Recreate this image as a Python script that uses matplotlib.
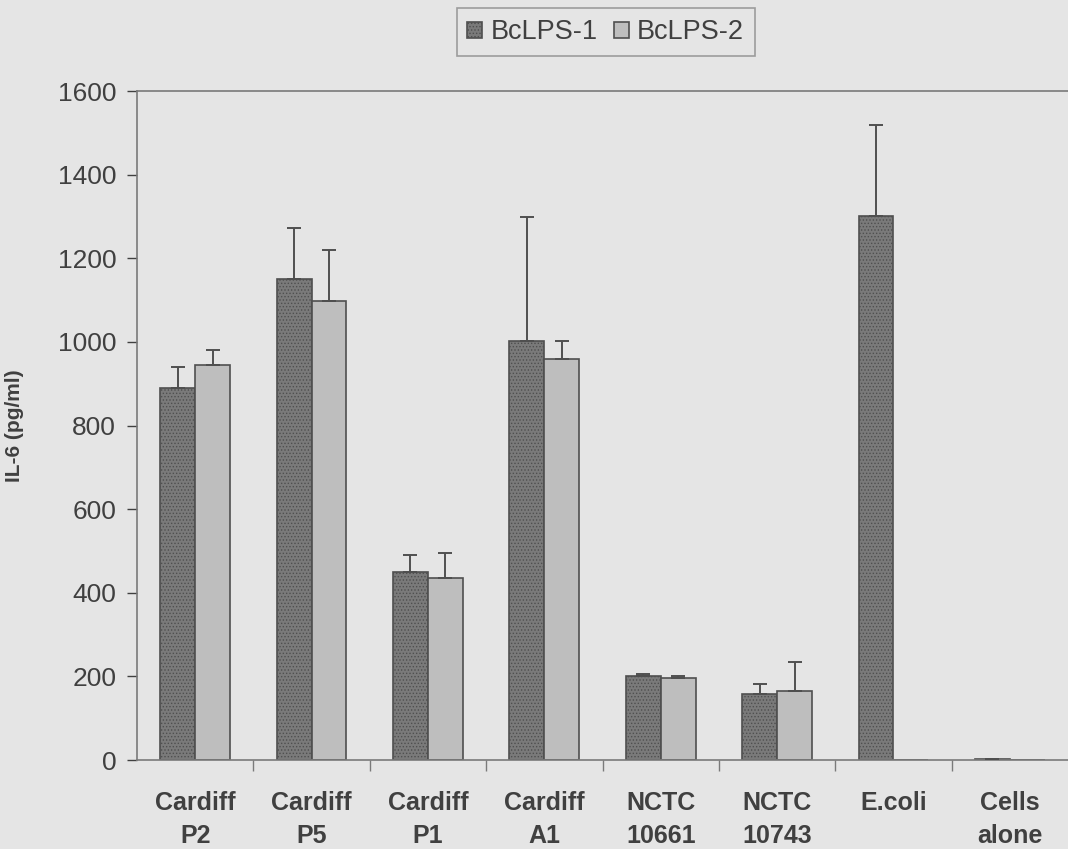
import numpy as np
import matplotlib.pyplot as plt

# ============================================================
# Data
# ============================================================

categories = ["Cardiff\nP2", "Cardiff\nP5", "Cardiff\nP1", "Cardiff\nA1",
              "NCTC\n10661", "NCTC\n10743", "E.coli", "Cells\nalone"]

bclps1_mean = [889, 1150, 450, 1001, 201, 158, 1301, 3]
bclps1_err = [52, 122, 41, 297, 5, 24, 217, 0]

bclps2_mean = [944, 1097, 436, 960, 196, 165, 0, 0]
bclps2_err = [36, 122, 60, 41, 5, 70, 0, 0]

# ============================================================
# Style
# ============================================================

BG = "#e5e5e5"
DARK = "#7a7a7a"
LIGHT = "#bebebe"
EDGE = "#4f4f4f"
TEXT = "#404040"

plt.rcParams['font.family'] = ['Liberation Sans', 'DejaVu Sans']
plt.rcParams['hatch.color'] = '#959595'
plt.rcParams['hatch.linewidth'] = 0.6

fig = plt.figure(figsize=(10.68, 8.49), dpi=100, facecolor=BG)
ax = fig.add_axes([0.1283, 0.1048, 0.8717, 0.788], facecolor=BG)

x = np.arange(len(categories))
w = 0.3

# Errors only drawn upward
zeros = np.zeros(len(categories))
err1 = np.array(bclps1_err)
err2 = np.array(bclps2_err)

ax.bar(x - w / 2, bclps1_mean, w, color=DARK, edgecolor=EDGE, linewidth=1.2,
       hatch='.....', label='BcLPS-1', zorder=2)
ax.bar(x + w / 2, bclps2_mean, w, color=LIGHT, edgecolor=EDGE, linewidth=1.2,
       label='BcLPS-2', zorder=2)

ax.errorbar(x - w / 2, bclps1_mean, yerr=[zeros, err1], fmt='none',
            ecolor=EDGE, elinewidth=1.4, capsize=5, capthick=1.4, zorder=3)
mask2 = err2 > 0
ax.errorbar((x + w / 2)[mask2], np.array(bclps2_mean)[mask2],
            yerr=[zeros[mask2], err2[mask2]], fmt='none',
            ecolor=EDGE, elinewidth=1.4, capsize=5, capthick=1.4, zorder=3)

# ============================================================
# Axes
# ============================================================

ax.set_xlim(-0.5, len(categories) - 0.5)
ax.set_ylim(0, 1600)
ax.set_yticks(range(0, 1601, 200))
ax.tick_params(axis='y', labelsize=19, colors=TEXT, length=7, width=1.0,
               direction='out', pad=8)

ax.set_xticks(x)
ax.set_xticklabels(categories, fontsize=18, fontweight='bold', color=TEXT,
                   linespacing=1.5)
ax.tick_params(axis='x', length=0, pad=22)
ax.set_xticks(np.arange(0.5, len(categories) - 0.5, 1.0), minor=True)
ax.tick_params(axis='x', which='minor', length=8, width=1.0, color='#7a7a7a',
               direction='out')

for side in ['left', 'bottom', 'top']:
    ax.spines[side].set_color('#7a7a7a')
    ax.spines[side].set_linewidth(1.2)
ax.spines['right'].set_visible(False)

ax.set_ylabel('IL-6 (pg/ml)', fontsize=15, fontweight='bold', color=TEXT,
              labelpad=24)

leg = fig.legend(loc='upper center', bbox_to_anchor=(0.567, 1.006), ncol=2,
                 fontsize=19.5, frameon=True, fancybox=False,
                 handlelength=0.55, handleheight=0.55, handletextpad=0.3,
                 columnspacing=0.6, borderpad=0.4)
leg.get_frame().set_facecolor(BG)
leg.get_frame().set_edgecolor('#8a8a8a')
leg.get_frame().set_linewidth(1.2)
for t in leg.get_texts():
    t.set_color(TEXT)

fig.savefig('out.png', dpi=100, facecolor=BG)
